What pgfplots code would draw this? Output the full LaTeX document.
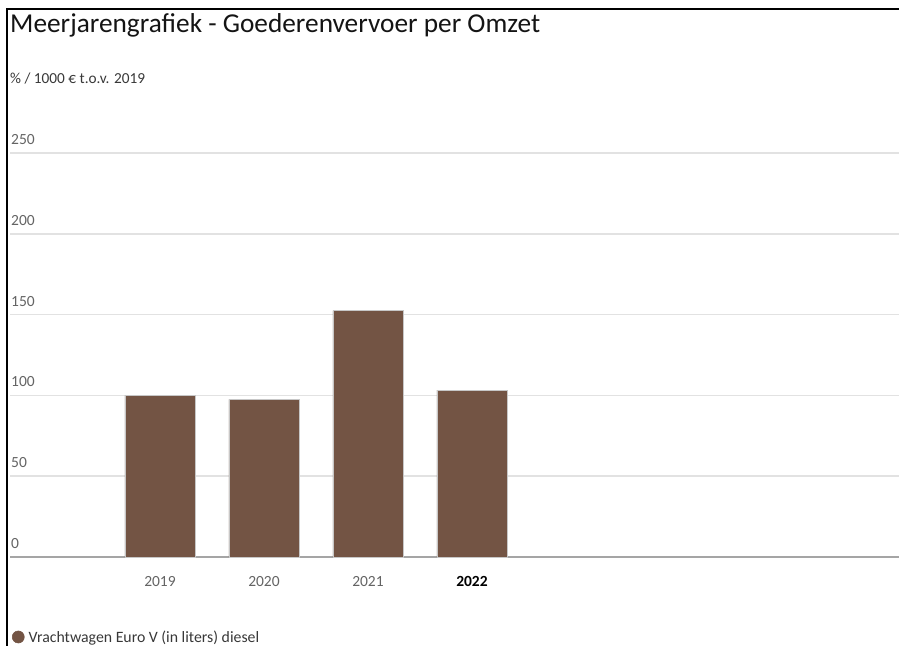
\documentclass[border=0pt]{standalone}
\usepackage{fontspec}
\setmainfont{Carlito}
\usepackage{pgfplots}
\pgfplotsset{compat=1.18}
\definecolor{barbrown}{RGB}{115,84,68}
\definecolor{gridgray}{RGB}{226,226,226}
\definecolor{axisgray}{RGB}{165,165,165}
\definecolor{labelgray}{RGB}{100,100,100}
\begin{document}
\begin{tikzpicture}[x=1pt,y=1pt]
\useasboundingbox (0,0) rectangle (899,645);
\draw[black, line width=1.3pt] (7,-5) -- (7,636) -- (905,636);
\node[anchor=base west, inner sep=0pt, font=\fontsize{27.3}{31}\selectfont, text=black!92] at (10,612) {Meerjarengrafiek - Goederenvervoer per Omzet};
\node[anchor=base west, inner sep=0pt, font=\fontsize{15.3}{17}\selectfont, text=black!78] at (10,561) {\% / 1000 € t.o.v. 2019};
\begin{axis}[
  at={(10pt,88pt)}, anchor=south west,
  scale only axis, width=889pt, height=404pt,
  xmin=-1.442, xmax=7.106, ymin=0, ymax=250,
  clip=false,
  ybar, bar width=70pt,
  xtick={0,1,2,3},
  xticklabels={2019,2020,2021,{\color{black}\textbf{2022}}},
  ytick={50,100,150,200,250},
  extra y ticks={0},
  extra y tick style={grid style={axisgray, line width=1.6pt}},
  ymajorgrids,
  grid style={gridgray, line width=1.5pt},
  axis line style={draw=none},
  major tick length=0pt,
  tick style={draw=none},
  /pgf/number format/assume math mode=true,
  yticklabel style={anchor=base west, inner sep=0pt, xshift=1pt, yshift=8.5pt, text=labelgray, font=\fontsize{15.5}{17}\selectfont},
  xticklabel style={anchor=base, inner sep=0pt, yshift=-29.7pt, text=labelgray, font=\fontsize{15.5}{17}\selectfont},
  legend style={at={(axis description cs:0.002,-0.198)}, anchor=west, draw=none, fill=none, inner sep=0pt, font=\fontsize{15.8}{18}\selectfont, text=black!78, /tikz/every even column/.append style={column sep=0pt}},
  legend cell align=left,
  legend image code/.code={\fill[barbrown] (4pt,0pt) circle (6pt); \path (12pt,0pt);},
]
\addplot[fill=barbrown, draw=white!78!black, line width=0.6pt] coordinates {(0,100) (1,97.5) (2,152.5) (3,103.3)};
\addlegendentry{Vrachtwagen Euro V (in liters) diesel}
\end{axis}
\end{tikzpicture}
\end{document}
